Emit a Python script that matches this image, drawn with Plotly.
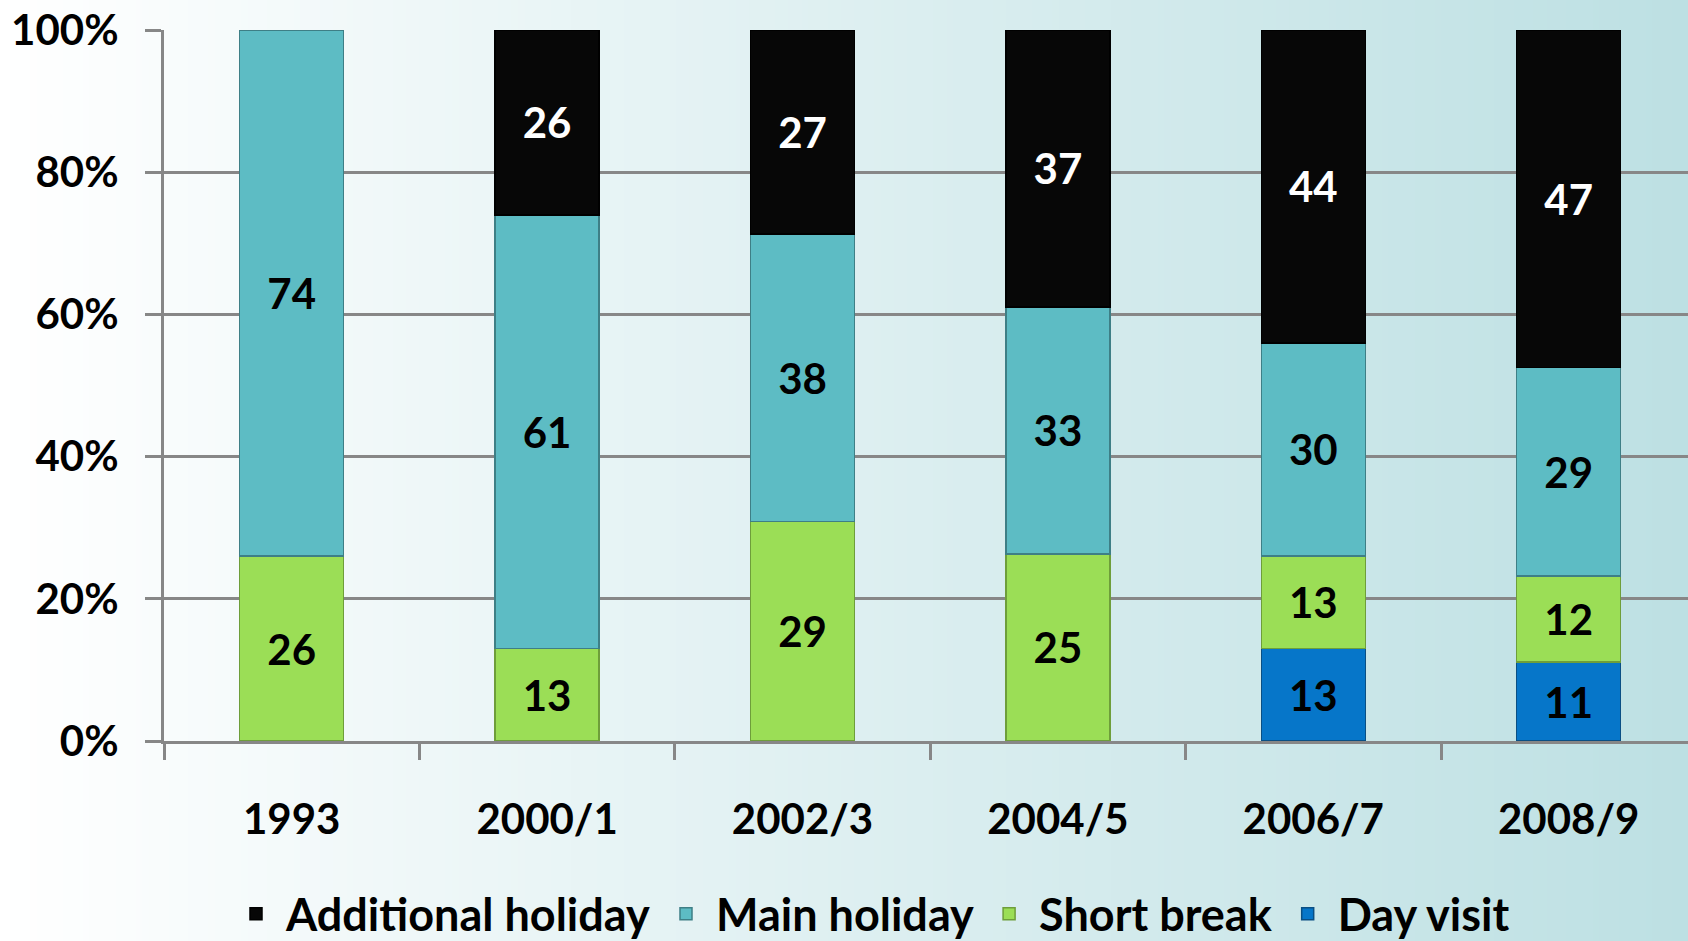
import base64, struct, zlib
import plotly.graph_objects as go

# ---------------- data ----------------
categories = ["1993", "2000/1", "2002/3", "2004/5", "2006/7", "2008/9"]
day_visit = [None, None, None, None, 13, 11]
short_break = [26, 13, 29, 25, 13, 12]
main_holiday = [74, 61, 38, 33, 30, 29]
additional_holiday = [None, 26, 27, 37, 44, 47]
y_tick_vals = [0, 20, 40, 60, 80, 100]
y_tick_text = ["0%", "20%", "40%", "60%", "80%", "100%"]

# ---------------- background gradient image ----------------
def gradient_png(w=256, c0=(255, 255, 255), c1=(189, 224, 227)):
    row = b"\x00"
    for i in range(w):
        t = i / (w - 1)
        row += bytes(int(round(c0[k] + (c1[k] - c0[k]) * t)) for k in range(3))
    def chunk(tag, data):
        c = struct.pack(">I", len(data)) + tag + data
        return c + struct.pack(">I", zlib.crc32(tag + data) & 0xffffffff)
    png = b"\x89PNG\r\n\x1a\n"
    png += chunk(b"IHDR", struct.pack(">IIBBBBB", w, 1, 8, 2, 0, 0, 0))
    png += chunk(b"IDAT", zlib.compress(row))
    png += chunk(b"IEND", b"")
    return "data:image/png;base64," + base64.b64encode(png).decode()

W, H = 1688, 941
ML, MR, MT, MB = 164, 0, 30, 200
PW, PH = W - ML - MR, H - MT - MB

FONT = "Lato"
FS = 42
fig = go.Figure()

def txt(vals):
    return ["" if v is None else str(v) for v in vals]

series = [
    ("Day visit", day_visit, "#0676C9", "#0A4F84", "black"),
    ("Short break", short_break, "#9BDE56", "#6E9E3A", "black"),
    ("Main holiday", main_holiday, "#5DBCC4", "#3E7F86", "black"),
    ("Additional holiday", additional_holiday, "#070707", "#000000", "white"),
]
for name, vals, col, lcol, tcol in series:
    fig.add_trace(go.Bar(
        name=name, x=categories, y=vals,
        marker=dict(color=col, line=dict(color=lcol, width=1.5)),
        text=txt(vals), textposition="inside", insidetextanchor="middle",
        textangle=0, constraintext="none",
        textfont=dict(family=FONT, size=FS, color=tcol, weight="bold"),
        hoverinfo="skip",
    ))

fig.update_layout(
    width=W, height=H,
    margin=dict(l=ML, r=MR, t=MT, b=MB, pad=0),
    barmode="stack", barnorm="percent", bargap=0.593,
    paper_bgcolor="white", plot_bgcolor="rgba(0,0,0,0)",
    font=dict(family=FONT, size=FS, color="black", weight="bold"),
    showlegend=True,
    legend=dict(orientation="h", traceorder="reversed",
                xref="container", x=226 / W, xanchor="left",
                yref="container", y=1 - 914 / H, yanchor="middle",
                font=dict(family=FONT, size=45, color="black", weight="bold"),
                bgcolor="rgba(0,0,0,0)", itemwidth=50, tracegroupgap=0),
    images=[dict(source=gradient_png(), xref="paper", yref="paper",
                 x=-ML / PW, y=1 + MT / PH, sizex=W / PW, sizey=H / PH,
                 xanchor="left", yanchor="top", sizing="stretch", layer="below")],
)
fig.update_xaxes(
    type="category", range=[-0.5, -0.5 + PW / 255.4],
    showgrid=False, showline=True, linecolor="#878787", linewidth=3,
    ticks="outside", tickson="boundaries", ticklen=16, tickwidth=3, tickcolor="#878787",
    ticklabelstandoff=40,
    tickfont=dict(family=FONT, size=FS, color="black", weight="bold"),
    zeroline=False, fixedrange=True,
)
fig.update_yaxes(
    range=[0, 100], tickvals=y_tick_vals, ticktext=y_tick_text,
    showgrid=True, gridcolor="#878787", gridwidth=3,
    showline=True, linecolor="#878787", linewidth=3,
    ticks="outside", ticklen=16, tickwidth=3, tickcolor="#878787",
    ticklabelstandoff=18,
    tickfont=dict(family=FONT, size=FS, color="black", weight="bold"),
    zeroline=False, fixedrange=True,
)

fig.write_html("out.html", config={"displayModeBar": False},
               post_script="document.body.style.margin='0';document.body.style.overflow='hidden';")
